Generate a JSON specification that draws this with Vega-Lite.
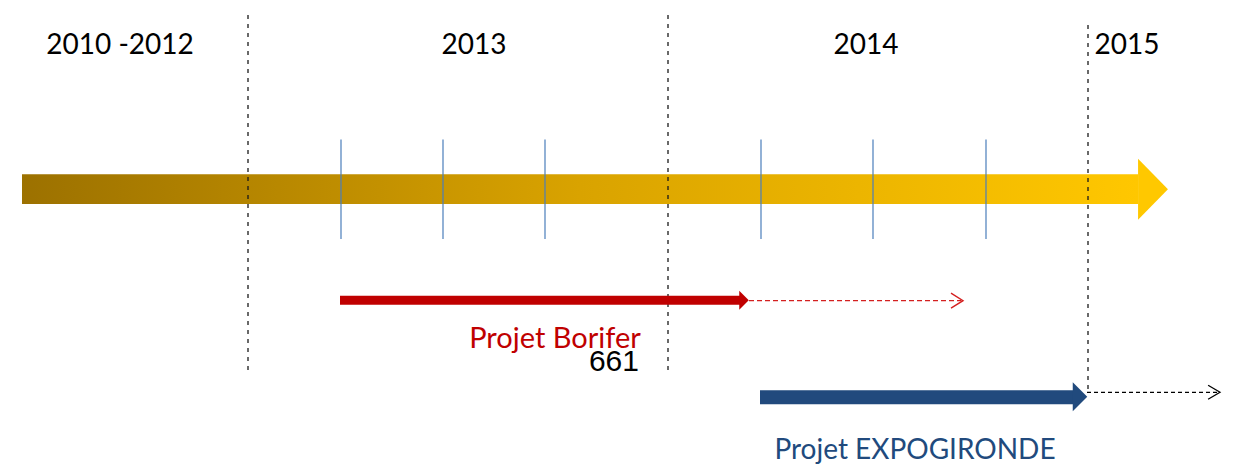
{
  "$schema": "https://vega.github.io/schema/vega-lite/v6.json",
  "width": 1233,
  "height": 465,
  "autosize": {"type": "fit", "contains": "padding"},
  "padding": 0,
  "background": "white",
  "view": {"stroke": null},
  "config": {"axis": {"domain": false}},
  "datasets": {
    "timeline": [{"x": 22, "x2": 1138, "y": 175, "y2": 205}],
    "timelineHead": [{"x": 1153, "y": 190}],
    "yearDividers": [
      {"x": 248, "y": 15, "y2": 372},
      {"x": 668, "y": 15, "y2": 372},
      {"x": 1088, "y": 25, "y2": 394}
    ],
    "quarterTicks": [
      {"x": 341, "y": 140, "y2": 240},
      {"x": 443, "y": 140, "y2": 240},
      {"x": 545, "y": 140, "y2": 240},
      {"x": 761, "y": 140, "y2": 240},
      {"x": 873, "y": 140, "y2": 240},
      {"x": 986, "y": 140, "y2": 240}
    ],
    "years": [
      {"label": "2010 -2012", "x": 120, "y": 54},
      {"label": "2013", "x": 474, "y": 54},
      {"label": "2014", "x": 866, "y": 54},
      {"label": "2015", "x": 1127, "y": 54}
    ],
    "borifer": [{"x": 340, "x2": 740, "y": 297, "y2": 306}],
    "boriferHead": [{"x": 744, "y": 301.5}],
    "boriferExt": [{"x": 749, "x2": 961, "y": 302}],
    "boriferChev": [{"x": 963, "y": 302}],
    "expo": [{"x": 760, "x2": 1074, "y": 392, "y2": 406}],
    "expoHead": [{"x": 1080, "y": 398.5}],
    "expoExt": [{"x": 1087, "x2": 1218, "y": 394}],
    "expoChev": [{"x": 1220, "y": 394}],
    "labelBorifer": [{"label": "Projet Borifer", "x": 555, "y": 350}],
    "labelExpo": [{"label": "Projet EXPOGIRONDE", "x": 915, "y": 461}],
    "labelNum": [{"label": "661", "x": 639, "y": 373}]
  },
  "layer": [
    {
      "data": {"name": "timeline"},
      "mark": {"type": "rect", "fill": {"gradient": "linear", "x1": 0, "x2": 1, "y1": 0, "y2": 0, "stops": [{"offset": 0, "color": "#9C7100"}, {"offset": 0.5, "color": "#D9A300"}, {"offset": 1, "color": "#FFC700"}]}},
      "encoding": {
        "x": {"field": "x", "type": "quantitative", "scale": {"domain": [0, 1233], "nice": false, "zero": false}, "axis": null},
        "x2": {"field": "x2"},
        "y": {"field": "y", "type": "quantitative", "scale": {"domain": [465, 0], "nice": false, "zero": false}, "axis": null},
        "y2": {"field": "y2"}
      }
    },
    {
      "data": {"name": "timelineHead"},
      "mark": {"type": "point", "shape": "M-0.49,-1L0.49,0L-0.49,1Z", "size": 3721, "filled": true, "fill": "#FFC800", "opacity": 1, "strokeWidth": 0},
      "encoding": {
        "x": {"field": "x", "type": "quantitative", "scale": {"domain": [0, 1233], "nice": false, "zero": false}, "axis": null},
        "y": {"field": "y", "type": "quantitative", "scale": {"domain": [465, 0], "nice": false, "zero": false}, "axis": null}
      }
    },
    {
      "data": {"name": "quarterTicks"},
      "mark": {"type": "rule", "color": "#4A7EBB", "strokeWidth": 1.2},
      "encoding": {
        "x": {"field": "x", "type": "quantitative", "scale": {"domain": [0, 1233], "nice": false, "zero": false}, "axis": null},
        "y": {"field": "y", "type": "quantitative", "scale": {"domain": [465, 0], "nice": false, "zero": false}, "axis": null},
        "y2": {"field": "y2"}
      }
    },
    {
      "data": {"name": "yearDividers"},
      "mark": {"type": "rule", "color": "#1A1A1A", "strokeWidth": 1.3, "strokeDash": [4, 5]},
      "encoding": {
        "x": {"field": "x", "type": "quantitative", "scale": {"domain": [0, 1233], "nice": false, "zero": false}, "axis": null},
        "y": {"field": "y", "type": "quantitative", "scale": {"domain": [465, 0], "nice": false, "zero": false}, "axis": null},
        "y2": {"field": "y2"}
      }
    },
    {
      "data": {"name": "borifer"},
      "mark": {"type": "rect", "fill": "#C00000"},
      "encoding": {
        "x": {"field": "x", "type": "quantitative", "scale": {"domain": [0, 1233], "nice": false, "zero": false}, "axis": null},
        "x2": {"field": "x2"},
        "y": {"field": "y", "type": "quantitative", "scale": {"domain": [465, 0], "nice": false, "zero": false}, "axis": null},
        "y2": {"field": "y2"}
      }
    },
    {
      "data": {"name": "boriferHead"},
      "mark": {"type": "point", "shape": "M-0.5,-1L0.5,0L-0.5,1Z", "size": 361, "filled": true, "fill": "#C00000", "opacity": 1, "strokeWidth": 0},
      "encoding": {
        "x": {"field": "x", "type": "quantitative", "scale": {"domain": [0, 1233], "nice": false, "zero": false}, "axis": null},
        "y": {"field": "y", "type": "quantitative", "scale": {"domain": [465, 0], "nice": false, "zero": false}, "axis": null}
      }
    },
    {
      "data": {"name": "boriferExt"},
      "mark": {"type": "rule", "color": "#D42020", "strokeWidth": 1.3, "strokeDash": [5, 3]},
      "encoding": {
        "x": {"field": "x", "type": "quantitative", "scale": {"domain": [0, 1233], "nice": false, "zero": false}, "axis": null},
        "x2": {"field": "x2"},
        "y": {"field": "y", "type": "quantitative", "scale": {"domain": [465, 0], "nice": false, "zero": false}, "axis": null}
      }
    },
    {
      "data": {"name": "boriferChev"},
      "mark": {"type": "point", "shape": "M-1.6,-1L0,0L-1.6,1", "size": 225, "filled": false, "stroke": "#D42020", "strokeWidth": 1.4, "opacity": 1},
      "encoding": {
        "x": {"field": "x", "type": "quantitative", "scale": {"domain": [0, 1233], "nice": false, "zero": false}, "axis": null},
        "y": {"field": "y", "type": "quantitative", "scale": {"domain": [465, 0], "nice": false, "zero": false}, "axis": null}
      }
    },
    {
      "data": {"name": "expo"},
      "mark": {"type": "rect", "fill": "#214A7D"},
      "encoding": {
        "x": {"field": "x", "type": "quantitative", "scale": {"domain": [0, 1233], "nice": false, "zero": false}, "axis": null},
        "x2": {"field": "x2"},
        "y": {"field": "y", "type": "quantitative", "scale": {"domain": [465, 0], "nice": false, "zero": false}, "axis": null},
        "y2": {"field": "y2"}
      }
    },
    {
      "data": {"name": "expoHead"},
      "mark": {"type": "point", "shape": "M-0.5,-1L0.5,0L-0.5,1Z", "size": 841, "filled": true, "fill": "#214A7D", "opacity": 1, "strokeWidth": 0},
      "encoding": {
        "x": {"field": "x", "type": "quantitative", "scale": {"domain": [0, 1233], "nice": false, "zero": false}, "axis": null},
        "y": {"field": "y", "type": "quantitative", "scale": {"domain": [465, 0], "nice": false, "zero": false}, "axis": null}
      }
    },
    {
      "data": {"name": "expoExt"},
      "mark": {"type": "rule", "color": "#000000", "strokeWidth": 1.2, "strokeDash": [4, 3]},
      "encoding": {
        "x": {"field": "x", "type": "quantitative", "scale": {"domain": [0, 1233], "nice": false, "zero": false}, "axis": null},
        "x2": {"field": "x2"},
        "y": {"field": "y", "type": "quantitative", "scale": {"domain": [465, 0], "nice": false, "zero": false}, "axis": null}
      }
    },
    {
      "data": {"name": "expoChev"},
      "mark": {"type": "point", "shape": "M-1.7,-1L0,0L-1.7,1", "size": 196, "filled": false, "stroke": "#000000", "strokeWidth": 1.3, "opacity": 1},
      "encoding": {
        "x": {"field": "x", "type": "quantitative", "scale": {"domain": [0, 1233], "nice": false, "zero": false}, "axis": null},
        "y": {"field": "y", "type": "quantitative", "scale": {"domain": [465, 0], "nice": false, "zero": false}, "axis": null}
      }
    },
    {
      "data": {"name": "years"},
      "mark": {"type": "text", "font": "Lato", "fontSize": 28, "color": "#000000", "align": "center", "baseline": "alphabetic"},
      "encoding": {
        "x": {"field": "x", "type": "quantitative", "scale": {"domain": [0, 1233], "nice": false, "zero": false}, "axis": null},
        "y": {"field": "y", "type": "quantitative", "scale": {"domain": [465, 0], "nice": false, "zero": false}, "axis": null},
        "text": {"field": "label"}
      }
    },
    {
      "data": {"name": "labelBorifer"},
      "mark": {"type": "text", "font": "Lato", "fontSize": 29, "color": "#C00000", "align": "center", "baseline": "alphabetic"},
      "encoding": {
        "x": {"field": "x", "type": "quantitative", "scale": {"domain": [0, 1233], "nice": false, "zero": false}, "axis": null},
        "y": {"field": "y", "type": "quantitative", "scale": {"domain": [465, 0], "nice": false, "zero": false}, "axis": null},
        "text": {"field": "label"}
      }
    },
    {
      "data": {"name": "labelNum"},
      "mark": {"type": "text", "font": "Liberation Sans", "fontSize": 30, "color": "#000000", "align": "right", "baseline": "alphabetic"},
      "encoding": {
        "x": {"field": "x", "type": "quantitative", "scale": {"domain": [0, 1233], "nice": false, "zero": false}, "axis": null},
        "y": {"field": "y", "type": "quantitative", "scale": {"domain": [465, 0], "nice": false, "zero": false}, "axis": null},
        "text": {"field": "label"}
      }
    },
    {
      "data": {"name": "labelExpo"},
      "mark": {"type": "text", "font": "Lato", "fontSize": 28, "color": "#214A7D", "align": "center", "baseline": "alphabetic"},
      "encoding": {
        "x": {"field": "x", "type": "quantitative", "scale": {"domain": [0, 1233], "nice": false, "zero": false}, "axis": null},
        "y": {"field": "y", "type": "quantitative", "scale": {"domain": [465, 0], "nice": false, "zero": false}, "axis": null},
        "text": {"field": "label"}
      }
    }
  ]
}
